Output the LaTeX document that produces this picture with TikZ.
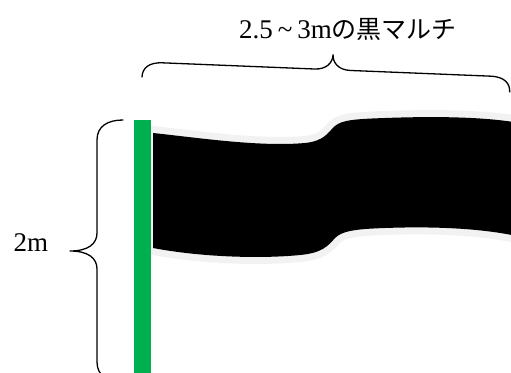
\documentclass[tikz,border=0pt]{standalone}
\usepackage{fontspec}
\setmainfont{Liberation Serif}
\newfontfamily\jpfont{Noto Sans CJK JP}
\definecolor{poleGreen}{HTML}{00B050}
\definecolor{glowGray}{HTML}{F2F2F2}
\begin{document}
\begin{tikzpicture}[x=1pt,y=-1pt,
  bracestyle/.style={draw=black, line width=1.3pt, line cap=round, line join=round},
  flagstyle/.style={fill=black, preaction={draw=glowGray, line width=14pt, line join=round}},
  polestyle/.style={fill=poleGreen},
  labelstyle/.style={font=\fontsize{27}{30}\selectfont, inner sep=0pt, anchor=base}]
\useasboundingbox (0,0) rectangle (511,372);
% flag
\path[flagstyle] (153,133)
  .. controls (200,138) and (260,147) .. (305,143)
  .. controls (325,141) and (328,132) .. (335,126)
  .. controls (342,120) and (355,119) .. (385,118)
  .. controls (440,116) and (490,117) .. (525,124)
  -- (525,238)
  .. controls (490,229) and (440,226) .. (385,228)
  .. controls (355,229) and (342,231) .. (335,238)
  .. controls (328,246) and (322,253) .. (300,255)
  .. controls (260,259) and (200,257) .. (153,248) -- cycle;
% pole
\path[polestyle] (134,120) rectangle (151,380);
% left brace
\draw[bracestyle] (123,120) .. controls (108,120) and (97,126) .. (97,140)
  -- (97,233) .. controls (97,244) and (88,251) .. (70,251)
  .. controls (88,251) and (97,258) .. (97,269)
  -- (97,362) .. controls (97,376) and (108,382) .. (123,382);
% top brace
\begin{scope}[shift={(142,77)}, rotate=-2.33]
\draw[bracestyle] (0,0) .. controls (0,-8) and (5,-15) .. (20,-15)
  -- (172,-15) .. controls (184,-15) and (190,-22) .. (190,-30)
  .. controls (190,-22) and (196,-15) .. (208,-15)
  -- (348,-15) .. controls (363,-15) and (368,-8) .. (368,0);
\end{scope}
% labels
\node[labelstyle] (title) at (348,38) {2.5\hspace{5pt}\textasciitilde\hspace{5pt}3m{\jpfont\fontsize{25}{30}\selectfont の黒マルチ}};
\node[labelstyle] (height) at (31,251) {2m};
\end{tikzpicture}
\end{document}
